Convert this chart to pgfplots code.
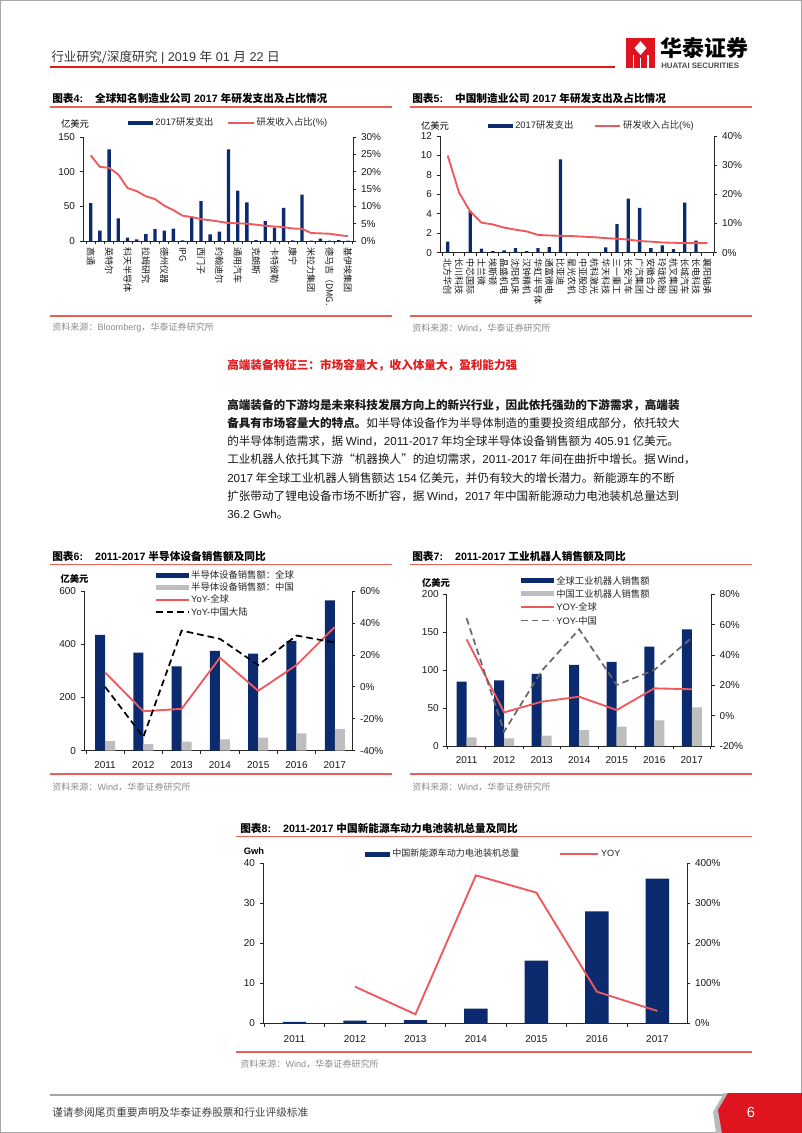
\documentclass[border=0pt]{standalone}
\usepackage{pgfplots}
\pgfplotsset{compat=1.18}
\usepackage{fontspec}
\setmainfont{Liberation Sans}
\newfontfamily\cjk{Noto Sans CJK SC}
\newcommand\lat[1]{{\rmfamily #1}}

\definecolor{navy}{RGB}{12,42,110}
\definecolor{barGray}{RGB}{190,190,190}
\definecolor{lineRed}{RGB}{240,88,92}
\definecolor{ruleRed}{RGB}{236,96,86}
\definecolor{headRed}{RGB}{226,26,28}
\definecolor{logoRed}{RGB}{222,20,30}
\definecolor{dashGray}{RGB}{105,105,105}
\definecolor{srcGray}{RGB}{140,140,140}

\pgfplotsset{
  /pgf/number format/assume math mode=true,
  hc/.style={scale only axis, anchor=south west,
    axis line style={black!85, line width=0.5pt},
    tick style={black!85, line width=0.5pt},
    tick align=outside, major tick length=2.5pt,
    tick label style={font=\fontsize{7.5}{8}\selectfont, text=black!90},
    clip=false},
  leftax/.style={hc, axis y line*=left, axis x line*=bottom},
  rightax/.style={hc, axis y line*=right, axis x line=none},
  legbar/.style 2 args={legend image code/.code={\fill[##1] (0pt,{-0.5*#2}) rectangle (#1,{0.5*#2});}},
  legline/.style={legend image code/.code={\draw[##1] (0pt,0pt) -- (#1,0pt);}},
  legst/.style={legend style={draw=none, fill=none, inner sep=0pt, outer sep=0pt, font=\fontsize{7}{8}\selectfont, nodes={inner sep=1.5pt, text=black!85}}},
}

\begin{document}
\begin{tikzpicture}
\begin{scope}[x=0.75pt,y=-0.75pt]
\useasboundingbox (0,0) rectangle (802,1133);
\fill[white] (0,0) rectangle (802,1133);
\draw[gray!70, line width=0.75pt] (0.5,0.5) rectangle (801.5,1132.5);

% ---------------- header
\node[anchor=west, inner sep=0, text=black!80] at (51,57) {\fontsize{9.5}{11}\selectfont{\cjk 行业研究/深度研究} | 2019 {\cjk 年} 01 {\cjk 月} 22 {\cjk 日}};
\draw[headRed, line width=1pt] (50,67) -- (615,67);
\fill[logoRed] (626,38) rectangle (655,68);
\fill[white] (640.5,41) -- (646.5,48) -- (640.5,55) -- (634.5,48) -- cycle;
\fill[white] (632.5,55) rectangle (634,68);
\fill[white] (639.8,58) rectangle (641.2,68);
\fill[white] (647,55) rectangle (648.5,68);
\node[anchor=west, inner sep=0] at (660,48) {\fontsize{16.5}{18}\selectfont\bfseries\cjk 华泰证券};
\node[anchor=west, inner sep=0, text=black!70] at (661,65.5) {\fontsize{5.9}{7}\selectfont\bfseries HUATAI SECURITIES};

% ---------------- titles & rules
\node[anchor=west, inner sep=0] at (52,98.5) {\fontsize{8}{9}\selectfont\bfseries{\cjk 图表}4:\hspace{9pt}{\cjk 全球知名制造业公司} 2017 {\cjk 年研发支出及占比情况}};
\draw[ruleRed, line width=0.8pt] (50,107) -- (392,107);
\node[anchor=west, inner sep=0] at (412,98.5) {\fontsize{8}{9}\selectfont\bfseries{\cjk 图表}5:\hspace{9pt}{\cjk 中国制造业公司} 2017 {\cjk 年研发支出及占比情况}};
\draw[ruleRed, line width=0.8pt] (410,107) -- (752,107);
\draw[ruleRed, line width=1.2pt] (50,316) -- (392,316);
\draw[ruleRed, line width=1.2pt] (410,316) -- (752,316);
\node[anchor=west, inner sep=0, text=srcGray] at (52,328) {\fontsize{6.8}{8}\selectfont{\cjk 资料来源：}Bloomberg{\cjk ，华泰证券研究所}};
\node[anchor=west, inner sep=0, text=srcGray] at (412,328) {\fontsize{6.8}{8}\selectfont{\cjk 资料来源：}Wind{\cjk ，华泰证券研究所}};
\node[font=\cjk\fontsize{7}{8}\selectfont] at (75,124) {亿美元};
\node[font=\cjk\fontsize{7}{8}\selectfont] at (435,126) {亿美元};

% ---------------- body text
\node[anchor=west, inner sep=0, text=headRed] at (227,365) {\fontsize{8.7}{10}\selectfont\bfseries\cjk 高端装备特征三：市场容量大，收入体量大，盈利能力强};
\begin{scope}[every node/.style={anchor=west, inner sep=0, font=\cjk\fontsize{8.7}{11}\selectfont, text=black!90}]
\node at (227,405) {\bfseries 高端装备的下游均是未来科技发展方向上的新兴行业，因此依托强劲的下游需求，高端装};
\node at (227,423.2) {{\bfseries 备具有市场容量大的特点。}如半导体设备作为半导体制造的重要投资组成部分，依托较大};
\node at (227,441.4) {的半导体制造需求，据 \lat{Wind}，\lat{2011-2017} 年均全球半导体设备销售额为 \lat{405.91} 亿美元。};
\node at (227,459.6) {工业机器人依托其下游“机器换人”的迫切需求，\lat{2011-2017} 年间在曲折中增长。据\,\lat{Wind}，};
\node at (227,477.8) {\lat{2017} 年全球工业机器人销售额达 \lat{154} 亿美元，并仍有较大的增长潜力。新能源车的不断};
\node at (227,496) {扩张带动了锂电设备市场不断扩容，据 \lat{Wind}，\lat{2017} 年中国新能源动力电池装机总量达到};
\node at (227,514.2) {\lat{36.2 Gwh}。};
\end{scope}

% ---------------- titles 6,7
\node[anchor=west, inner sep=0] at (52,556) {\fontsize{8}{9}\selectfont\bfseries{\cjk 图表}6:\hspace{9pt}2011-2017 {\cjk 半导体设备销售额及同比}};
\draw[ruleRed, line width=0.8pt] (50,564.3) -- (392,564.3);
\node[anchor=west, inner sep=0] at (412,556) {\fontsize{8}{9}\selectfont\bfseries{\cjk 图表}7:\hspace{9pt}2011-2017 {\cjk 工业机器人销售额及同比}};
\draw[ruleRed, line width=0.8pt] (410,564.3) -- (752,564.3);
\draw[ruleRed, line width=1.2pt] (50,774) -- (392,774);
\draw[ruleRed, line width=1.2pt] (410,774) -- (752,774);
\node[anchor=west, inner sep=0, text=srcGray] at (52,787) {\fontsize{6.8}{8}\selectfont{\cjk 资料来源：}Wind{\cjk ，华泰证券研究所}};
\node[anchor=west, inner sep=0, text=srcGray] at (412,787) {\fontsize{6.8}{8}\selectfont{\cjk 资料来源：}Wind{\cjk ，华泰证券研究所}};
\node[font=\cjk\bfseries\fontsize{7}{8}\selectfont] at (74.5,579) {亿美元};
\node[font=\cjk\bfseries\fontsize{7}{8}\selectfont] at (436,583) {亿美元};

% ---------------- title 8
\node[anchor=west, inner sep=0] at (240,828) {\fontsize{8}{9}\selectfont\bfseries{\cjk 图表}8:\hspace{9pt}2011-2017 {\cjk 中国新能源车动力电池装机总量及同比}};
\draw[ruleRed, line width=0.8pt] (236,836.7) -- (752,836.7);
\draw[ruleRed, line width=1.2pt] (236,1052) -- (752,1052);
\node[anchor=west, inner sep=0, text=srcGray] at (240,1064) {\fontsize{6.8}{8}\selectfont{\cjk 资料来源：}Wind{\cjk ，华泰证券研究所}};
\node[font=\bfseries\fontsize{7}{8}\selectfont] at (254,851) {Gwh};

% ---------------- footer
\draw[gray!70, line width=1.5pt] (50,1095) -- (735,1095);
\fill[gray!55] (724,1093) -- (735,1093) -- (728,1133) -- (716,1133) -- (713,1112) -- cycle;
\fill[logoRed] (728,1093) -- (802,1093) -- (802,1133) -- (722,1133) -- (718,1110) -- cycle;
\node[text=white, font=\fontsize{11}{12}\selectfont] at (751,1112) {6};
\node[anchor=west, inner sep=0, text=black!75] at (52,1112) {\fontsize{8}{9}\selectfont\cjk 谨请参阅尾页重要声明及华泰证券股票和行业评级标准};
\end{scope}

% ---------------- chart 4
\begin{axis}[leftax, legst, at={(62.25pt,-180.75pt)}, width=202.5pt, height=78pt,
  ybar, bar width=2.5pt,
  xmin=-0.84, xmax=28.55, ymin=0, ymax=150, ytick={0,50,100,150},
  xtick={-0.5,0.5,...,28.5}, xticklabels={},
  extra x ticks={0,2,...,28},
  extra x tick labels={高通,英特尔,科天半导体,拉姆研究,德州仪器,IPG,西门子,约翰迪尔,通用汽车,克朗斯,卡特彼勒,康宁,米拉力集团,德马吉（DMG.,基伊埃集团},
  extra x tick style={major tick length=0pt, xticklabel shift=1pt, tick label style={rotate=-90, anchor=west, font=\cjk\fontsize{6.8}{7}\selectfont}},
  legend columns=2,
  legend style={at={(0.167,1.135)}, anchor=west, /tikz/every even column/.append style={column sep=9pt}},
]
\addplot[fill=navy, draw=none, legbar={19pt}{3pt}] coordinates {
(0,54.6) (1,15) (2,132) (3,32.6) (4,5) (5,2.4) (6,10) (7,17.2) (8,15) (9,17.7)
(10,1) (11,35) (12,57.5) (13,9.6) (14,13.4) (15,132) (16,72.8) (17,55.6) (18,1.4) (19,28.7)
(20,19.2) (21,47.9) (22,1) (23,67) (24,0.5) (25,3.4) (26,0.5) (27,1.4) (28,0.5)};
\addlegendentry{2017{\cjk 研发支出}}
\addlegendimage{lineRed, line width=1.4pt, legline=19pt}
\addlegendentry{{\cjk 研发收入占比}(\%)}
\end{axis}
\begin{axis}[rightax, at={(62.25pt,-180.75pt)}, width=202.5pt, height=78pt,
  xmin=-0.84, xmax=28.55, ymin=0, ymax=30, ytick={0,5,...,30},
  yticklabels={0\%,5\%,10\%,15\%,20\%,25\%,30\%}]
\addplot[lineRed, line width=1.4pt] coordinates {
(0,24.7) (1,21.4) (2,21.1) (3,19.2) (4,15.3) (5,14.4) (6,12.9) (7,12.1) (8,10.2) (9,8.9)
(10,7.3) (11,6.9) (12,6.3) (13,6.0) (14,5.6) (15,5.2) (16,5.1) (17,5.0) (18,4.7) (19,4.4)
(20,4.2) (21,4.0) (22,3.6) (23,3.5) (24,2.3) (25,2.2) (26,2.1) (27,1.7) (28,1.4)};
\end{axis}

% ---------------- chart 5
\begin{axis}[leftax, legst, at={(330pt,-189.525pt)}, width=205.5pt, height=87.5pt,
  ybar, bar width=2.5pt,
  xmin=-0.68, xmax=23.59, ymin=0, ymax=12, ytick={0,2,...,12},
  xtick={-0.5,0.5,...,23.5}, xticklabels={},
  extra x ticks={0,1,...,23},
  extra x tick labels={北方华创,长川科技,中芯国际,士兰微,埃斯顿,晶盛机电,沈阳机床,汉钟精机,华虹半导体,通富微电,比亚迪,星光农机,中亚股份,杭科激光,华天科技,三一重工,长安汽车,广汽集团,安徽合力,玲珑轮胎,杭叉集团,长城汽车,长电科技,襄阳轴承},
  extra x tick style={major tick length=0pt, xticklabel shift=1pt, tick label style={rotate=-90, anchor=west, font=\cjk\fontsize{6.8}{7}\selectfont}},
  legend columns=2,
  legend style={at={(0.175,1.086)}, anchor=west, /tikz/every even column/.append style={column sep=14pt}},
]
\addplot[fill=navy, draw=none, legbar={19pt}{3pt}] coordinates {
(0,1.13) (1,0.03) (2,4.29) (3,0.41) (4,0.17) (5,0.24) (6,0.48) (7,0.17) (8,0.48) (9,0.58)
(10,9.6) (11,0.02) (12,0.02) (13,0.05) (14,0.55) (15,2.95) (16,5.55) (17,4.6) (18,0.48) (19,0.75)
(20,0.38) (21,5.14) (22,1.23) (23,0.03)};
\addlegendentry{2017{\cjk 研发支出}}
\addlegendimage{lineRed, line width=1.4pt, legline=19pt}
\addlegendentry{{\cjk 研发收入占比}(\%)}
\end{axis}
\begin{axis}[rightax, at={(330pt,-189.525pt)}, width=205.5pt, height=87.5pt,
  xmin=-0.68, xmax=23.59, ymin=0, ymax=40, ytick={0,10,...,40},
  yticklabels={0\%,10\%,20\%,30\%,40\%}]
\addplot[lineRed, line width=1.4pt] coordinates {
(0,33.3) (1,20.7) (2,14.1) (3,10.3) (4,9.7) (5,8.6) (6,7.9) (7,7.3) (8,6.1) (9,5.9)
(10,5.8) (11,5.7) (12,5.5) (13,5.3) (14,5.0) (15,4.8) (16,4.5) (17,4.0) (18,3.8) (19,3.5)
(20,3.4) (21,3.3) (22,3.3) (23,3.3)};
\end{axis}

% ---------------- chart 6
\begin{axis}[leftax, legst, at={(63pt,-563.025pt)}, width=201pt, height=119.8pt,
  ybar=0pt, bar width=7.5pt,
  xmin=-0.55, xmax=6.45, ymin=0, ymax=600, ytick={0,200,400,600},
  xtick={-0.5,0.5,...,6.5}, xticklabels={},
  extra x ticks={0,...,6}, extra x tick labels={2011,2012,2013,2014,2015,2016,2017},
  extra x tick style={major tick length=0pt, xticklabel shift=4.5pt},
  legend cell align=left,
  legend style={at={(0.265,1.138)}, anchor=north west, row sep=0pt, nodes={text height=6.25pt, text depth=1.5pt, inner sep=0.75pt}},
]
\addplot[fill=navy, draw=none, legbar={25pt}{3.75pt}] coordinates {(0,434.8) (1,368.4) (2,317) (3,374.7) (4,364.7) (5,412.3) (6,565)};
\addplot[fill=barGray, draw=none, legbar={25pt}{3.75pt}] coordinates {(0,36.3) (1,25) (2,33.8) (3,42.6) (4,48.9) (5,65.2) (6,81.5)};
\addlegendimage{lineRed, line width=1.4pt, legline=25pt}
\addlegendimage{black, line width=1.3pt, dash pattern=on 5pt off 3pt, legline=25pt}
\legend{{\cjk 半导体设备销售额：全球},{\cjk 半导体设备销售额：中国},YoY-{\cjk 全球},YoY-{\cjk 中国大陆}}
\end{axis}
\begin{axis}[rightax, at={(63pt,-563.025pt)}, width=201pt, height=119.8pt,
  xmin=-0.55, xmax=6.45, ymin=-40, ymax=60, ytick={-40,-20,...,60},
  yticklabels={-40\%,-20\%,0\%,20\%,40\%,60\%}]
\addplot[lineRed, line width=1.4pt] coordinates {(0,9.0) (1,-15.3) (2,-13.8) (3,18.2) (4,-2.5) (5,13.6) (6,37.5)};
\addplot[black, line width=1.3pt, dash pattern=on 5pt off 3pt] coordinates {(0,0) (1,-31.4) (2,35.2) (3,30) (4,13.6) (5,32.1) (6,27.7)};
\end{axis}

% ---------------- chart 7
\begin{axis}[leftax, legst, at={(335.025pt,-559.5pt)}, width=198.75pt, height=113.8pt,
  ybar=0pt, bar width=7.5pt,
  xmin=-0.53, xmax=6.53, ymin=0, ymax=200, ytick={0,50,...,200},
  xtick={-0.5,0.5,...,6.5}, xticklabels={},
  extra x ticks={0,...,6}, extra x tick labels={2011,2012,2013,2014,2015,2016,2017},
  extra x tick style={major tick length=0pt, xticklabel shift=4.5pt},
  legend cell align=left,
  legend style={at={(0.277,1.134)}, anchor=north west, row sep=0pt, nodes={text height=7pt, text depth=1.5pt, inner sep=0.75pt}},
]
\addplot[fill=navy, draw=none, legbar={25pt}{3.75pt}] coordinates {(0,84.8) (1,86.6) (2,95) (3,106.8) (4,110.8) (5,131) (6,153.8)};
\addplot[fill=barGray, draw=none, legbar={25pt}{3.75pt}] coordinates {(0,11.4) (1,10.1) (2,13.6) (3,21.1) (4,25.5) (5,33.8) (6,51)};
\addlegendimage{lineRed, line width=1.4pt, legline=25pt}
\addlegendimage{dashGray, line width=1.3pt, dash pattern=on 5pt off 3pt, legline=25pt}
\legend{{\cjk 全球工业机器人销售额},{\cjk 中国工业机器人销售额},YOY-{\cjk 全球},YOY-{\cjk 中国}}
\end{axis}
\begin{axis}[rightax, at={(335.025pt,-559.5pt)}, width=198.75pt, height=113.8pt,
  xmin=-0.53, xmax=6.53, ymin=-20, ymax=80, ytick={-20,0,...,80},
  yticklabels={-20\%,0\%,20\%,40\%,60\%,80\%}]
\addplot[lineRed, line width=1.4pt] coordinates {(0,50.3) (1,2.2) (2,9.2) (3,12.5) (4,3.7) (5,18) (6,17.4)};
\addplot[dashGray, line width=1.3pt, dash pattern=on 5pt off 3pt] coordinates {(0,64.2) (1,-10.5) (2,29.5) (3,56.9) (4,20.2) (5,30.1) (6,51.4)};
\end{axis}

% ---------------- chart 8
\begin{axis}[leftax, legst, at={(197.25pt,-767.475pt)}, width=318pt, height=120pt,
  ybar, bar width=17.5pt,
  xmin=-0.52, xmax=6.49, ymin=0, ymax=40, ytick={0,10,...,40},
  xtick={-0.5,0.5,...,6.5}, xticklabels={},
  extra x ticks={0,...,6}, extra x tick labels={2011,2012,2013,2014,2015,2016,2017},
  extra x tick style={major tick length=0pt, xticklabel shift=5.5pt},
  legend columns=2,
  legend style={at={(0.2406,1.058)}, anchor=west, font=\fontsize{6.8}{8}\selectfont, /tikz/every even column/.append style={column sep=28pt}},
]
\addplot[fill=navy, draw=none, legbar={19pt}{3.75pt}] coordinates {(0,0.34) (1,0.65) (2,0.79) (3,3.7) (4,15.7) (5,28) (6,36.2)};
\addlegendentry{{\cjk 中国新能源车动力电池装机总量}}
\addlegendimage{lineRed, line width=1.4pt, legline=29pt}
\addlegendentry{YOY}
\end{axis}
\begin{axis}[rightax, at={(197.25pt,-767.475pt)}, width=318pt, height=120pt,
  xmin=-0.52, xmax=6.49, ymin=0, ymax=400, ytick={0,100,...,400},
  yticklabels={0\%,100\%,200\%,300\%,400\%}]
\addplot[lineRed, line width=1.4pt] coordinates {(1,91.7) (2,22.5) (3,370) (4,326.7) (5,79) (6,30.8)};
\end{axis}
\end{tikzpicture}
\end{document}
